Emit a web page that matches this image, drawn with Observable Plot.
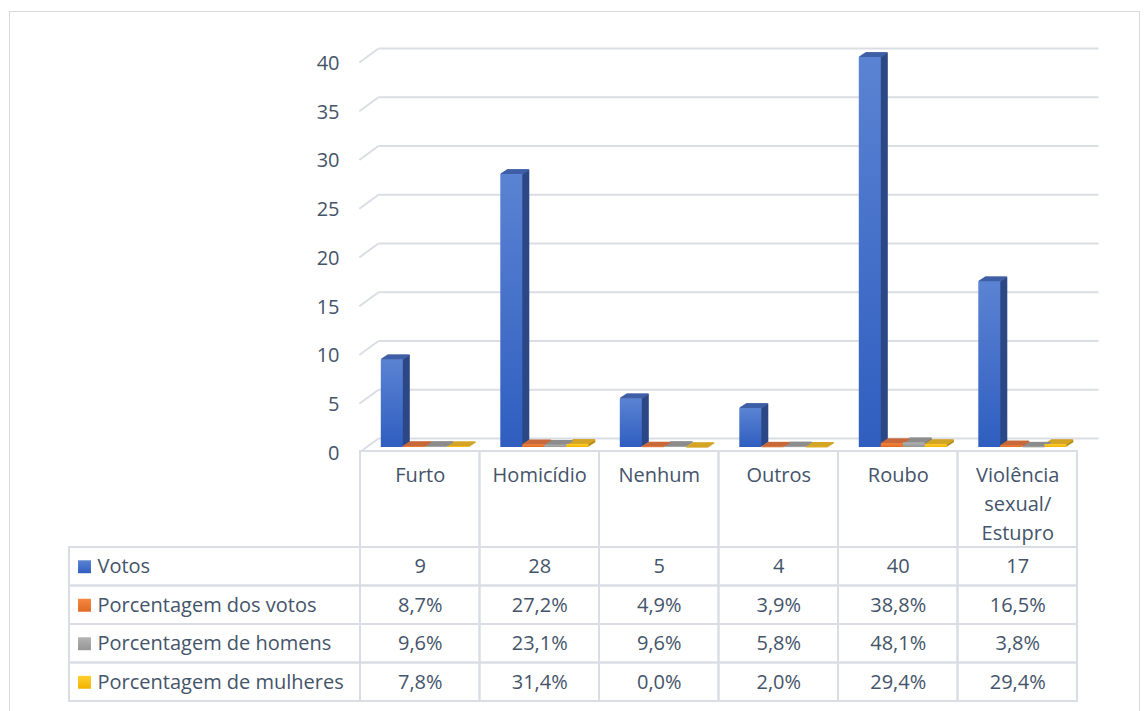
<!DOCTYPE html>
<html>
<head>
<meta charset="utf-8">
<script src="https://cdn.jsdelivr.net/npm/d3@7"></script>
<script src="https://cdn.jsdelivr.net/npm/@observablehq/plot@0.6"></script>
<style>
  body { margin: 0; background: #fff; }
  #wrap { position: relative; width: 1144px; height: 711px; overflow: hidden; background: #fff; font-family: "Open Sans", sans-serif; }
  #border { position: absolute; left: 9px; top: 11px; width: 1131px; height: 740px; border: 1.5px solid #d9d9d9; box-sizing: border-box; }
</style>
</head>
<body>
<div id="wrap"><div id="border"></div></div>
<script>
// ---------- data ----------
const categories = ["Furto", "Homicídio", "Nenhum", "Outros", "Roubo", "Violência sexual/ Estupro"];
const categoryLabels = ["Furto", "Homicídio", "Nenhum", "Outros", "Roubo", "Violência\nsexual/\nEstupro"];
const seriesNames = ["Votos", "Porcentagem dos votos", "Porcentagem de homens", "Porcentagem de mulheres"];
const votos       = [9, 28, 5, 4, 40, 17];
const pctVotos    = [0.087, 0.272, 0.049, 0.039, 0.388, 0.165];
const pctHomens   = [0.096, 0.231, 0.096, 0.058, 0.481, 0.038];
const pctMulheres = [0.078, 0.314, 0.000, 0.020, 0.294, 0.294];
const yTicks = [0, 5, 10, 15, 20, 25, 30, 35, 40];

// ---------- styles ----------
const seriesValues = [votos, pctVotos, pctHomens, pctMulheres];
const frontStops = [["#5b83d3", "#2f5ec0"], ["#f4873f", "#e06a22"], ["#b3b3b3", "#959595"], ["#ffd030", "#f2b200"]];
const topColors  = ["#3f5fa6", "#c9693a", "#8d8d8d", "#d4a526"];
const sideColors = ["#2c4785", "#a9532a", "#767676", "#b08a10"];
const TEXT = "#44546a";
const GRID = "#dadde3";
const FONT = "Open Sans, sans-serif";

const W = 1144, ML = 360, MR = 67, MT = 62, H1 = 470, MB1 = 18;
const bandPx = (W - ML - MR) / categories.length;
const pxPerUnit = (H1 - MB1 - MT) / 40;
const DEPTH_X = 18 / bandPx;          // back-wall shift, in category units
const DEPTH_Y = 14 / pxPerUnit;       // back-wall shift, in value units
const RIGHT_X = categories.length + 21 / bandPx;

const rows = [];
seriesNames.forEach((s, j) => categories.forEach((c, i) => rows.push({category: c, series: s, value: seriesValues[j][i], j})));

const ptBR = d3.formatLocale({decimal: ",", thousands: ".", grouping: [3], currency: ["R$", ""]});
const fmtPct = ptBR.format(".1%");
const fmtInt = ptBR.format("d");

const wrap = document.getElementById("wrap");
function place(svg, top, left = 0) {
  svg.style.position = "absolute";
  svg.style.top = top + "px";
  svg.style.left = left + "px";
  wrap.appendChild(svg);
}
function addGradients(svg) {
  const ns = "http://www.w3.org/2000/svg";
  const defs = document.createElementNS(ns, "defs");
  frontStops.forEach((st, j) => {
    const g = document.createElementNS(ns, "linearGradient");
    g.setAttribute("id", "grad" + j);
    g.setAttribute("x1", "0"); g.setAttribute("y1", "0"); g.setAttribute("x2", "0"); g.setAttribute("y2", "1");
    st.forEach((c, k) => {
      const s = document.createElementNS(ns, "stop");
      s.setAttribute("offset", k ? "1" : "0");
      s.setAttribute("stop-color", c);
      g.appendChild(s);
    });
    defs.appendChild(g);
  });
  svg.insertBefore(defs, svg.firstChild);
}
const baseStyle = {background: "transparent", overflow: "visible", fontFamily: FONT, fontSize: "20px", color: TEXT};

// ---------- A: walls, gridlines, y axis ----------
const plotA = Plot.plot({
  width: W, height: H1, marginLeft: ML, marginRight: MR, marginTop: MT, marginBottom: MB1,
  style: baseStyle,
  x: {domain: [0, categories.length], axis: null},
  y: {domain: [0, 40]},
  marks: [
    Plot.link(yTicks, {x1: () => -0.01, y1: d => d, x2: () => DEPTH_X, y2: d => d + DEPTH_Y, stroke: GRID, strokeWidth: 2}),
    Plot.link(yTicks, {x1: () => DEPTH_X, y1: d => d + DEPTH_Y, x2: () => RIGHT_X, y2: d => d + DEPTH_Y, stroke: GRID, strokeWidth: 2}),
    Plot.axisY(yTicks, {tickSize: 0, tickPadding: 21, fontSize: 20, fill: TEXT, label: null, dy: 1})
  ]
});
place(plotA, 0);

// ---------- B: 3D-look bars ----------
const depthSteps = [1, 2, 3, 4, 5, 6, 7];
const plotB = Plot.plot({
  width: W, height: H1, marginLeft: ML, marginRight: MR, marginTop: MT, marginBottom: MB1,
  style: baseStyle,
  fx: {domain: categories, padding: 0, round: false, axis: null},
  x: {domain: seriesNames, paddingInner: 0, paddingOuter: 0.716, align: 0.66, round: false, axis: null},
  y: {domain: [0, 40], axis: null},
  color: {type: "identity"},
  marks: [
    ...depthSteps.map(k => Plot.barY(rows, {fx: "category", x: "series", y: "value", fill: d => sideColors[d.j], dx: k, dy: -5 - k * 4.5 / 7})),
    ...depthSteps.map(k => Plot.tickY(rows, {fx: "category", x: "series", y: "value", stroke: d => topColors[d.j], strokeWidth: 1.6, dx: k - 0.5, dy: -5 - k * 4.5 / 7})),
    Plot.barY(rows, {fx: "category", x: "series", y: "value", fill: d => "url(#grad" + d.j + ")", dy: -5})
  ]
});
addGradients(plotB);
place(plotB, 0);

// ---------- H: category header row ----------
const plotH = Plot.plot({
  width: W, height: 96, marginLeft: ML, marginRight: MR, marginTop: 0, marginBottom: 0,
  style: baseStyle,
  x: {domain: categories, padding: 0, round: false, axis: null},
  marks: [
    Plot.cell(categories, {x: d => d, fill: "none", stroke: GRID, strokeWidth: 2}),
    Plot.text(categories, {x: d => d, text: (d, i) => categoryLabels[i], frameAnchor: "top", lineAnchor: "top", dy: 10, lineHeight: 1.45, fontSize: 20, fill: TEXT})
  ]
});
place(plotH, 451);

// ---------- T: data table values ----------
const plotV = Plot.plot({
  width: W, height: 154, marginLeft: ML, marginRight: MR, marginTop: 0, marginBottom: 0,
  style: baseStyle,
  x: {domain: categories, padding: 0, round: false, axis: null},
  y: {domain: seriesNames, padding: 0, round: false, axis: null},
  marks: [
    Plot.cell(rows, {x: "category", y: "series", fill: "none", stroke: GRID, strokeWidth: 2}),
    Plot.text(rows, {x: "category", y: "series", text: d => d.j === 0 ? fmtInt(d.value) : fmtPct(d.value), fontSize: 20, fill: TEXT})
  ]
});
place(plotV, 547);

// ---------- L: legend/label column ----------
const plotL = Plot.plot({
  width: ML, height: 154, marginLeft: 69, marginRight: 0, marginTop: 0, marginBottom: 0,
  style: baseStyle,
  y: {domain: seriesNames, padding: 0, round: false, axis: null},
  color: {type: "identity"},
  marks: [
    Plot.cell(seriesNames, {y: d => d, fill: "none", stroke: GRID, strokeWidth: 2}),
    Plot.dot(seriesNames, {y: d => d, frameAnchor: "left", dx: 15, symbol: "square", r: 7.3, fill: (d, i) => "url(#grad" + i + ")", stroke: "none"}),
    Plot.text(seriesNames, {y: d => d, frameAnchor: "left", dx: 28, textAnchor: "start", fontSize: 20, fill: TEXT})
  ]
});
addGradients(plotL);
place(plotL, 547);
</script>
</body>
</html>
